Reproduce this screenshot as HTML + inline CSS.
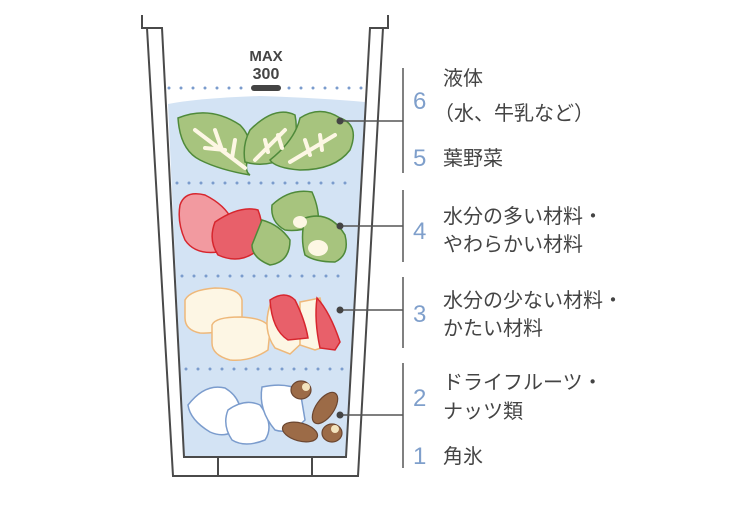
<!DOCTYPE html>
<html><head><meta charset="utf-8"><style>
html,body{margin:0;padding:0;background:#fff;}
body{width:750px;height:500px;overflow:hidden;}
text{font-family:"Liberation Sans","Noto Sans CJK JP",sans-serif;}
</style></head><body>
<svg width="750" height="500" viewBox="0 0 750 500" xmlns="http://www.w3.org/2000/svg">
<path d="M168,104 Q200,98 260,96 Q320,98 365,102 L346,457 L184,457 Z" fill="#d3e3f4"/>
<g fill="none" stroke="#4a4a4a" stroke-width="2">
<path d="M142,15 L142,28 L162,28 L184,457 L346,457 L370,28 L388,28 L388,15"/>
<path d="M147,28 L173,476 L358,476 L383,28"/>
<path d="M218,457 L218,476 M312,457 L312,476"/>
</g>
<g stroke="#7b9ccd" stroke-width="3" stroke-linecap="round" stroke-dasharray="0 12">
<line x1="169" y1="88" x2="362" y2="88"/>
<line x1="177" y1="183" x2="356" y2="183"/>
<line x1="182" y1="276" x2="350" y2="276"/>
<line x1="186" y1="369" x2="346" y2="369"/>
</g>
<rect x="251" y="85" width="30" height="6" rx="3" fill="#444"/>
<text x="266" y="61" text-anchor="middle" font-size="15" font-weight="bold" fill="#444">MAX</text>
<text x="266" y="79" text-anchor="middle" font-size="16" font-weight="bold" fill="#444">300</text>
<g fill="#a7c47e" stroke="#4f8a3a" stroke-width="1.5">
<path d="M178,118 Q210,105 240,125 Q255,140 247,162 Q245,172 250,175 Q220,170 200,160 Q180,150 178,118Z"/>
<path d="M250,130 Q275,105 295,115 Q300,140 285,158 Q265,168 245,162 Q242,145 250,130Z"/>
<path d="M300,118 Q320,105 340,118 Q360,125 350,150 Q335,170 300,170 Q275,168 270,160 Q295,140 300,118Z"/>
</g>
<g stroke="#fdf7e4" stroke-width="4" stroke-linecap="round" fill="none">
<path d="M195,130 L245,168 M215,130 L222,150 M205,148 L225,150 M235,140 L232,158"/>
<path d="M255,160 L285,130 M265,140 L268,152 M278,135 L282,148"/>
<path d="M290,162 L335,135 M305,140 L310,155 M320,135 L322,150"/>
</g>
<g stroke="#d7262e" stroke-width="1.5">
<path d="M180,205 Q185,190 205,195 Q225,205 232,220 L218,252 Q195,255 185,240 Q177,222 180,205Z" fill="#f29aa0"/>
<path d="M215,222 Q240,205 258,210 Q266,230 258,250 Q240,265 218,255 Q208,240 215,222Z" fill="#e8606a"/>
</g>
<g fill="#a7c47e" stroke="#4f8a3a" stroke-width="1.5">
<path d="M262,220 Q280,225 290,240 Q290,262 270,265 Q252,258 252,245 Z"/>
<path d="M272,205 Q290,188 312,192 Q320,210 318,225 Q300,232 285,230 Q270,222 272,205Z"/>
<path d="M305,218 Q330,210 345,235 Q350,255 335,262 Q315,262 305,255 Q300,238 305,218Z"/>
</g>
<ellipse cx="318" cy="248" rx="10" ry="8" fill="#fdf7e4"/>
<ellipse cx="300" cy="222" rx="7" ry="6" fill="#fdf7e4"/>
<g fill="#fdf6e4" stroke="#eeb87a" stroke-width="1.5">
<path d="M185,300 Q190,290 215,288 Q240,288 242,300 L242,322 Q225,334 200,333 Q185,330 185,318Z"/>
<path d="M212,325 Q215,317 240,317 Q268,318 270,330 L268,350 Q250,362 230,360 Q212,355 212,343Z"/>
<path d="M270,305 L290,298 L305,340 L290,354 L275,348 Q262,330 270,305Z"/>
<path d="M300,302 L320,298 L330,345 L315,350 L300,345Z"/>
</g>
<g fill="#e8606a" stroke="#d7262e" stroke-width="1.5">
<path d="M270,300 Q285,290 295,300 Q305,320 308,338 L288,340 Q272,330 270,300Z"/>
<path d="M317,298 Q330,312 340,342 L335,350 L320,348 Q314,320 317,298Z"/>
</g>
<g fill="#fff" stroke="#7b9ccd" stroke-width="1.5">
<path d="M188,405 Q205,383 225,388 Q245,400 240,425 Q228,440 210,432 Q190,420 188,405Z"/>
<path d="M228,410 Q245,398 260,405 Q275,425 265,440 Q245,448 232,440 Q222,425 228,410Z"/>
<path d="M262,387 Q285,382 300,390 L305,420 Q290,435 275,430 Q258,410 262,387Z"/>
</g>
<g fill="#9c6b47" stroke="#6b4630" stroke-width="1.2">
<ellipse cx="325" cy="408" rx="9" ry="18" transform="rotate(35 325 408)"/>
<ellipse cx="300" cy="432" rx="18" ry="9" transform="rotate(15 300 432)"/>
<ellipse cx="301" cy="390" rx="10" ry="9"/>
<ellipse cx="332" cy="433" rx="10" ry="9"/>
</g>
<circle cx="306" cy="387" r="4" fill="#f3e4be"/>
<circle cx="335" cy="429" r="4" fill="#f3e4be"/>
<g stroke="#555" stroke-width="1.5">
<line x1="340" y1="121" x2="403" y2="121"/><line x1="340" y1="226" x2="403" y2="226"/>
<line x1="340" y1="310" x2="403" y2="310"/><line x1="340" y1="415" x2="403" y2="415"/>
<line x1="403" y1="68" x2="403" y2="173"/><line x1="403" y1="190" x2="403" y2="262"/>
<line x1="403" y1="277" x2="403" y2="348"/><line x1="403" y1="363" x2="403" y2="468"/>
</g>
<g fill="#444"><circle cx="340" cy="121" r="3.5"/><circle cx="340" cy="226" r="3.5"/><circle cx="340" cy="310" r="3.5"/><circle cx="340" cy="415" r="3.5"/></g>
<g font-size="24" fill="#7f9fcb">
<text x="413" y="109">6</text><text x="413" y="166">5</text><text x="413" y="239">4</text>
<text x="413" y="322">3</text><text x="413" y="406">2</text><text x="413" y="464">1</text>
</g>
<g font-size="20" fill="#444">
<text x="443" y="85">液体</text><text x="434" y="120">（水、牛乳など）</text><text x="443" y="165">葉野菜</text>
<text x="443" y="223">水分の多い材料・</text><text x="443" y="251">やわらかい材料</text>
<text x="443" y="307">水分の少ない材料・</text><text x="443" y="335">かたい材料</text>
<text x="443" y="389">ドライフルーツ・</text><text x="443" y="418">ナッツ類</text>
<text x="443" y="463">角氷</text>
</g>
</svg>
</body></html>
